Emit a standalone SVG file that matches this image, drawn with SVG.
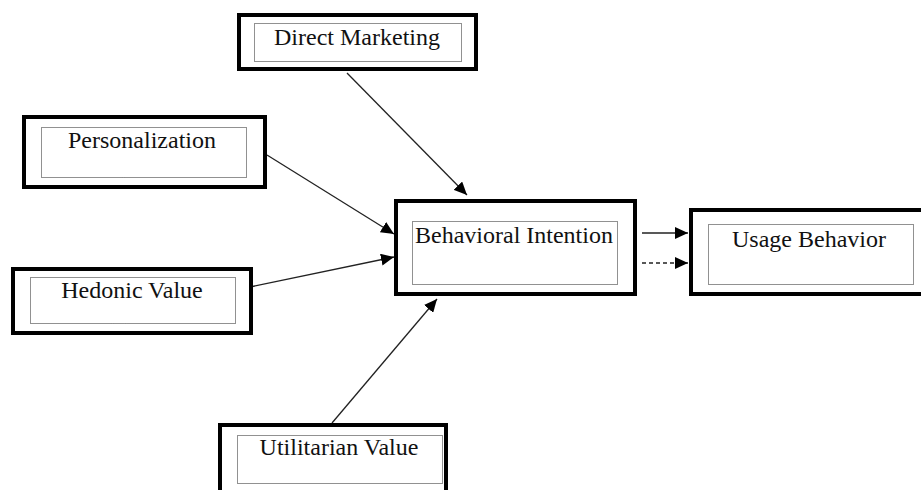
<svg xmlns="http://www.w3.org/2000/svg" width="921" height="490" viewBox="0 0 921 490">
<style>
.outer{fill:#fff;stroke:#000;stroke-width:4}
.inner{fill:none;stroke:#222;stroke-width:1;stroke-dasharray:1 1}
.lbl{font-family:'Liberation Serif','DejaVu Serif',serif;font-size:24px;fill:#111;text-anchor:middle}
.conn{stroke:#222;stroke-width:1.3;fill:none;marker-end:url(#ah)}
.dash{stroke-dasharray:4 3}
</style>
<defs>
<marker id="ah" markerUnits="userSpaceOnUse" markerWidth="14" markerHeight="12" refX="13" refY="6" orient="auto">
<path d="M0,0 L13,6 L0,12 Z" fill="#000"/>
</marker>
</defs>
<rect width="921" height="490" fill="#fff"/>
<g id="connectors">
<line class="conn" x1="347" y1="73" x2="467" y2="195"/>
<line class="conn" x1="267" y1="155" x2="394" y2="234"/>
<line class="conn" x1="250" y1="287" x2="394" y2="257"/>
<line class="conn" x1="332" y1="423" x2="437" y2="299"/>
<line class="conn" x1="642" y1="233" x2="688" y2="233"/>
<line class="conn dash" x1="642" y1="263" x2="688" y2="263"/>
</g>
<g id="direct-marketing">
<rect class="outer" x="239" y="15" width="237" height="54"/>
<rect class="inner" x="254.5" y="23.5" width="207" height="38"/>
<text class="lbl" font-family="Liberation Serif, serif" x="357" y="45">Direct Marketing</text>
</g>
<g id="personalization">
<rect class="outer" x="24" y="117" width="241" height="70"/>
<rect class="inner" x="41.5" y="127.5" width="205" height="50"/>
<text class="lbl" font-family="Liberation Serif, serif" x="142" y="148">Personalization</text>
</g>
<g id="hedonic-value">
<rect class="outer" x="13" y="269" width="238" height="64"/>
<rect class="inner" x="30.5" y="277.5" width="205" height="46"/>
<text class="lbl" font-family="Liberation Serif, serif" x="132" y="298">Hedonic Value</text>
</g>
<g id="behavioral-intention">
<rect class="outer" x="396" y="201" width="239" height="93"/>
<rect class="inner" x="412.5" y="221.5" width="205" height="63"/>
<text class="lbl" font-family="Liberation Serif, serif" x="514" y="243">Behavioral Intention</text>
</g>
<g id="usage-behavior">
<rect class="outer" x="691" y="210" width="240" height="84"/>
<rect class="inner" x="708.5" y="224.5" width="205" height="60"/>
<text class="lbl" font-family="Liberation Serif, serif" x="809" y="247">Usage Behavior</text>
</g>
<g id="utilitarian-value">
<rect class="outer" x="220" y="425" width="226" height="80"/>
<rect class="inner" x="237.5" y="435.5" width="205" height="48"/>
<text class="lbl" font-family="Liberation Serif, serif" x="339" y="455">Utilitarian Value</text>
</g>
</svg>
